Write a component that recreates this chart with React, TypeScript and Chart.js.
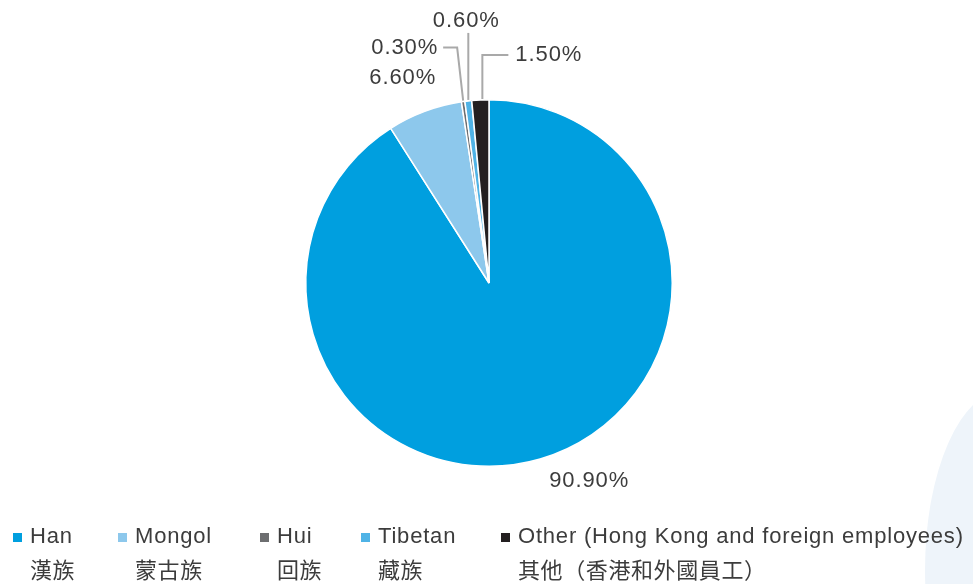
import React, { useEffect, useRef } from "react";
import { Chart, registerables } from "chart.js";

Chart.register(...registerables);

const categories = ["Han", "Mongol", "Hui", "Tibetan", "Other (Hong Kong and foreign employees)"];
const categoriesZh = ["漢族", "蒙古族", "回族", "藏族", "其他（香港和外國員工）"];
const shares = [90.9, 6.6, 0.3, 0.6, 1.5];
const valueLabels = ["90.90%", "6.60%", "0.30%", "0.60%", "1.50%"];
const colors = ["#009fdf", "#8dc8ec", "#6d6e70", "#4fb3e6", "#231f20"];

const TEXT_FONT = "'Liberation Sans', Arial, sans-serif";
const CJK_FONT = "'Noto Sans CJK TC', 'Noto Sans CJK SC', sans-serif";
const TEXT_COLOR = "#3c3c3c";

type LabelSpec = {
  path: [number, number][]; // offsets relative to anchor on arc edge
  text: [number, number];
  align: CanvasTextAlign;
};

const labelSpecs: LabelSpec[] = [
  { path: [], text: [49, 22], align: "center" },
  { path: [], text: [-22, -33], align: "center" },
  { path: [[0, -1], [-6, -54], [-20, -54]], text: [-25, -54], align: "right" },
  { path: [[0, -1], [0, -68]], text: [-2, -80], align: "center" },
  { path: [[2, -1], [2, -45], [28, -45]], text: [35, -45], align: "left" },
];

const labelPlugin = {
  id: "pieLabels",
  afterDatasetsDraw(chart: any) {
    const ctx = chart.ctx as CanvasRenderingContext2D;
    const meta = chart.getDatasetMeta(0);
    ctx.save();
    meta.data.forEach((arc: any, i: number) => {
      const spec = labelSpecs[i];
      const mid = (arc.startAngle + arc.endAngle) / 2;
      const ax = arc.x + Math.cos(mid) * arc.outerRadius;
      const ay = arc.y + Math.sin(mid) * arc.outerRadius;
      if (spec.path.length > 1) {
        ctx.beginPath();
        ctx.strokeStyle = "#a9a9a9";
        ctx.lineWidth = 2;
        spec.path.forEach(([dx, dy], k) => {
          if (k === 0) ctx.moveTo(ax + dx, ay + dy);
          else ctx.lineTo(ax + dx, ay + dy);
        });
        ctx.stroke();
      }
      ctx.fillStyle = TEXT_COLOR;
      ctx.font = `22px ${TEXT_FONT}`;
      (ctx as any).letterSpacing = "0.9px";
      ctx.textAlign = spec.align;
      ctx.textBaseline = "middle";
      ctx.fillText(valueLabels[i], ax + spec.text[0], ay + spec.text[1]);
    });
    ctx.restore();
  },
};

const legendX = [13, 118, 260, 361, 501];

export default function App() {
  const canvasRef = useRef<HTMLCanvasElement | null>(null);

  useEffect(() => {
    document.body.style.margin = "0";
    const canvas = canvasRef.current;
    if (!canvas) return;
    const chart = new Chart(canvas, {
      type: "pie",
      data: {
        labels: categories,
        datasets: [
          {
            data: shares,
            backgroundColor: colors,
            borderColor: "#ffffff",
            borderWidth: 1.5,
          },
        ],
      },
      options: {
        animation: false,
        responsive: false,
        maintainAspectRatio: false,
        layout: { padding: { top: 99, bottom: 117, left: 305, right: 300 } },
        plugins: {
          legend: { display: false },
          tooltip: { enabled: false },
        },
      },
      plugins: [labelPlugin],
    });
    return () => chart.destroy();
  }, []);

  return (
    <div style={{ position: "absolute", left: 0, top: 0, width: 973, height: 584, overflow: "hidden", background: "#ffffff" }}>
      <div
        style={{
          position: "absolute",
          left: 925,
          top: 390,
          width: 160,
          height: 360,
          borderRadius: "50%",
          background: "#eef4fa",
        }}
      />
      <canvas ref={canvasRef} width={973} height={584} style={{ position: "absolute", left: 0, top: 0 }} />
      {categories.map((name, i) => (
        <div key={name} style={{ position: "absolute", left: legendX[i], top: 520, color: TEXT_COLOR }}>
          <div style={{ position: "absolute", left: 0, top: 13, width: 9, height: 9, background: colors[i] }} />
          <div style={{ marginLeft: 17, whiteSpace: "nowrap" }}>
            <div style={{ font: `22px ${TEXT_FONT}`, lineHeight: "32px", letterSpacing: "0.8px" }}>{name}</div>
            <div style={{ font: `22px ${CJK_FONT}`, lineHeight: "32px", letterSpacing: "0.6px" }}>{categoriesZh[i]}</div>
          </div>
        </div>
      ))}
    </div>
  );
}
